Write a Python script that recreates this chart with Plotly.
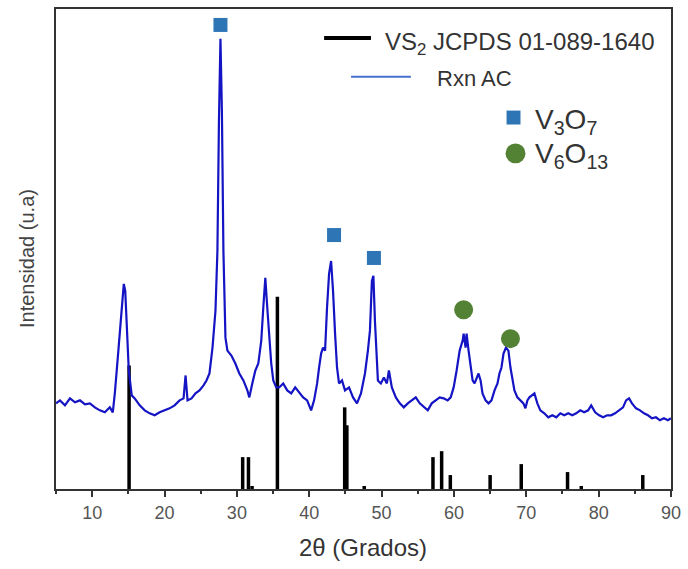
import plotly.graph_objects as go

# ---- Data ----
# Measured pattern "Rxn AC" (2theta in degrees, intensity in arbitrary units)
theta = [5.0, 5.55, 6.24, 6.93, 7.62, 8.31, 9.0, 9.68, 10.37, 11.06, 11.75, 12.44, 12.85,
         13.13, 13.54, 13.82, 14.09, 14.37, 14.57, 14.78, 15.06, 15.47, 15.88, 16.57, 17.26,
         17.95, 18.64, 19.33, 20.01, 20.70, 21.39, 22.08, 22.63, 22.91, 23.18, 23.73, 24.28,
         24.83, 25.39, 25.80, 26.21, 26.63, 27.04, 27.31, 27.52, 27.73, 27.93, 28.14, 28.42,
         28.69, 29.24, 29.79, 30.34, 30.90, 31.45, 31.72, 32.13, 32.55, 32.96, 33.37, 33.65,
         33.93, 34.20, 34.48, 34.75, 35.03, 35.44, 35.85, 36.40, 36.96, 37.51, 38.06, 38.61,
         39.16, 39.71, 40.26, 40.67, 41.09, 41.36, 41.64, 41.91, 42.19, 42.46, 42.74, 43.02,
         43.29, 43.57, 43.84, 44.12, 44.53, 44.94, 45.50, 46.05, 46.60, 47.15, 47.70, 48.11,
         48.39, 48.66, 48.87, 49.08, 49.29, 49.49, 49.90, 50.32, 50.73, 51.01, 51.42, 51.97,
         52.52, 53.07, 53.62, 54.17, 54.72, 55.28, 55.83, 56.38, 56.93, 57.48, 58.03, 58.58,
         59.13, 59.55, 59.96, 60.37, 60.79, 61.20, 61.34, 61.61, 61.75, 62.02, 62.30, 62.58,
         62.85, 63.13, 63.40, 63.68, 63.95, 64.37, 64.78, 65.19, 65.61, 66.02, 66.29, 66.57,
         66.85, 67.19, 67.53, 67.81, 68.09, 68.36, 68.77, 69.19, 69.60, 69.88, 70.15, 70.43,
         70.84, 71.12, 71.53, 71.94, 72.49, 73.04, 73.60, 74.15, 74.70, 75.25, 75.80, 76.35,
         76.90, 77.45, 78.00, 78.55, 78.97, 79.52, 80.07, 80.62, 81.17, 81.72, 82.27, 82.82,
         83.37, 83.79, 84.20, 84.61, 85.17, 85.72, 86.27, 86.82, 87.37, 87.92, 88.47, 89.02,
         89.57, 89.99]
intensity = [86, 89, 84, 91, 87, 89, 85, 86, 82, 79, 77, 82, 77,
             96, 132, 159, 189, 206, 199, 159, 119, 94, 91, 84, 79,
             76, 74, 77, 79, 81, 84, 89, 91, 114, 89, 91, 96,
             99, 104, 109, 116, 142, 179, 239, 369, 452, 379, 239, 152,
             139, 134, 126, 116, 109, 99, 92, 106, 119, 126, 149, 182,
             212, 182, 149, 126, 109, 102, 102, 106, 99, 96, 102, 97,
             92, 89, 79, 89, 106, 122, 136, 142, 139, 182, 216, 229,
             199, 156, 122, 106, 109, 99, 102, 92, 86, 96, 116, 139,
             159, 209, 214, 169, 132, 109, 106, 112, 106, 119, 102, 92,
             86, 82, 86, 89, 92, 86, 82, 79, 86, 89, 92, 91,
             89, 92, 102, 119, 139, 149, 156, 142, 156, 139, 122, 109,
             106, 112, 116, 109, 96, 89, 86, 89, 99, 106, 116, 122,
             136, 142, 139, 122, 109, 99, 92, 89, 86, 81, 89, 92,
             94, 96, 86, 79, 76, 72, 74, 72, 76, 74, 76, 74,
             76, 79, 77, 79, 84, 77, 74, 72, 74, 74, 76, 79,
             82, 89, 91, 86, 81, 79, 76, 74, 71, 72, 69, 71,
             69, 71]

# Reference pattern VS2 JCPDS 01-089-1640 (stick positions and heights)
ref_theta = [15.1, 30.8, 31.6, 32.1, 35.6, 44.9, 45.2, 47.6, 57.1, 58.3, 59.5,
             65.0, 69.3, 75.7, 77.6, 86.1]
ref_int = [124, 32, 32, 3, 193, 82, 64, 3, 32, 38, 14,
           14, 25, 17, 3, 14]

# Phase markers
v3o7_theta = [27.73, 43.43, 48.94]
v3o7_int = [466, 255, 232]
v6o13_theta = [61.34, 67.81]
v6o13_int = [180, 151]

x_ticks = [10, 20, 30, 40, 50, 60, 70, 80, 90]

# ---- Build sticks ----
stick_x, stick_y = [], []
for t, h in zip(ref_theta, ref_int):
    stick_x += [t, t, None]
    stick_y += [0, h, None]

fig = go.Figure()
fig.add_trace(go.Scatter(x=stick_x, y=stick_y, mode="lines",
                         line=dict(color="black", width=3.5),
                         name="VS<sub>2</sub> JCPDS 01-089-1640", showlegend=False))
fig.add_trace(go.Scatter(x=theta, y=intensity, mode="lines",
                         line=dict(color="#1414c4", width=2.2),
                         name="Rxn AC", showlegend=False))
fig.add_trace(go.Scatter(x=v3o7_theta, y=v3o7_int, mode="markers",
                         marker=dict(symbol="square", size=14, color="#2e75b6"),
                         name="V<sub>3</sub>O<sub>7</sub>", showlegend=False))
fig.add_trace(go.Scatter(x=v6o13_theta, y=v6o13_int, mode="markers",
                         marker=dict(symbol="circle", size=19, color="#548235"),
                         name="V<sub>6</sub>O<sub>13</sub>", showlegend=False))

W, H = 688, 569
L, R, T, B = 56, 15, 7, 80
pw, ph = W - L - R, H - T - B

def px(xp):
    return (xp - L) / pw

def py(yp):
    return (H - B - yp) / ph

font_main = "Liberation Sans, Arial, sans-serif"

# Manual legend
shapes = [
    dict(type="line", xref="paper", yref="paper", x0=px(325), x1=px(372), y0=py(36), y1=py(36),
         line=dict(color="black", width=4)),
    dict(type="line", xref="paper", yref="paper", x0=px(352), x1=px(412), y0=py(75), y1=py(75),
         line=dict(color="#4470d0", width=2)),
    dict(type="rect", xref="paper", yref="paper", x0=px(508), x1=px(522), y0=py(109), y1=py(123),
         fillcolor="#2e75b6", line=dict(width=0)),
    dict(type="circle", xref="paper", yref="paper", x0=px(507), x1=px(527), y0=py(142), y1=py(162),
         fillcolor="#548235", line=dict(width=0)),
]
annotations = [
    dict(text="VS<sub>2</sub> JCPDS 01-089-1640", xref="paper", yref="paper", x=px(384), y=py(42),
         xanchor="left", yanchor="middle", showarrow=False,
         font=dict(family=font_main, size=24, color="#333333")),
    dict(text="Rxn AC", xref="paper", yref="paper", x=px(436), y=py(77),
         xanchor="left", yanchor="middle", showarrow=False,
         font=dict(family=font_main, size=22, color="#333333")),
    dict(text="V<sub>3</sub>O<sub>7</sub>", xref="paper", yref="paper", x=px(535), y=py(120),
         xanchor="left", yanchor="middle", showarrow=False,
         font=dict(family=font_main, size=28, color="#333333")),
    dict(text="V<sub>6</sub>O<sub>13</sub>", xref="paper", yref="paper", x=px(535), y=py(154),
         xanchor="left", yanchor="middle", showarrow=False,
         font=dict(family=font_main, size=28, color="#333333")),
    dict(text="2θ (Grados)", xref="paper", yref="paper", x=px(364), y=py(548),
         xanchor="center", yanchor="middle", showarrow=False,
         font=dict(family=font_main, size=24, color="#333333")),
    dict(text="Intensidad (u.a)", xref="paper", yref="paper", x=px(27), y=py(258),
         xanchor="center", yanchor="middle", showarrow=False, textangle=-90,
         font=dict(family=font_main, size=20, color="#444444")),
]

fig.update_layout(
    width=W, height=H,
    margin=dict(l=L, r=R, t=T, b=B),
    paper_bgcolor="white", plot_bgcolor="white",
    shapes=shapes, annotations=annotations,
    showlegend=False,
    xaxis=dict(range=[5, 90], tickvals=x_ticks, ticks="outside", ticklen=6, tickwidth=2,
               tickcolor="#333333", showline=True, linecolor="#333333", linewidth=2,
               mirror=True, showgrid=False, zeroline=False,
               minor=dict(dtick=5, tick0=5, ticks="outside", ticklen=3, tickwidth=2,
                          tickcolor="#333333", showgrid=False),
               tickfont=dict(family=font_main, size=18, color="#555555")),
    yaxis=dict(range=[0, 482], showticklabels=False, ticks="", showline=True,
               linecolor="#333333", linewidth=2, mirror=True, showgrid=False, zeroline=False),
)

fig.write_html("out.html", config={"displayModeBar": False},
               post_script="document.body.style.margin='0';")
